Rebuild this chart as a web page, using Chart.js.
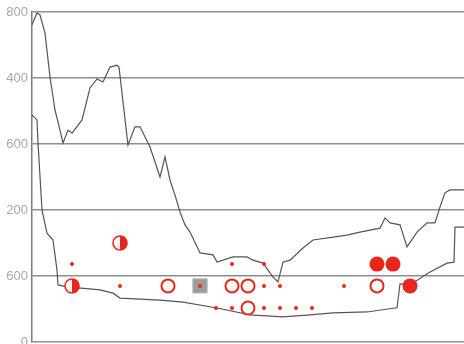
<!DOCTYPE html>
<html>
<head>
<meta charset="utf-8">
<script src="https://cdn.jsdelivr.net/npm/chart.js@4.4.0/dist/chart.umd.min.js"></script>
<style>
  html, body { margin: 0; padding: 0; background: #fff; }
  canvas { display: block; }
</style>
</head>
<body>
<canvas id="grafico" width="464" height="344"></canvas>
<script>
// etiquetas del eje vertical, de abajo hacia arriba
const etiquetasY = ['0', '600', '200', '600', '400', '800'];

// curva superior
const curvaSuperior = [
  [0, 961], [5, 997], [8, 991], [13, 936], [18, 803], [23, 703], [26, 667], [31, 603],
  [36, 642], [40, 633], [50, 673], [58, 770], [65, 797], [71, 788], [78, 833], [85, 839],
  [87, 833], [96, 597], [103, 652], [108, 652], [118, 591], [128, 500], [133, 561], [138, 491],
  [143, 445], [148, 394], [153, 355], [158, 333], [168, 270], [181, 264], [185, 242], [201, 258],
  [215, 258], [221, 248], [231, 239], [241, 197], [246, 182], [251, 242], [258, 248], [271, 285],
  [281, 309], [301, 318], [315, 324], [328, 333], [348, 345], [353, 376], [358, 361], [368, 355],
  [375, 288], [385, 333], [395, 361], [403, 361], [408, 409], [413, 452], [418, 461], [432, 461]
];

// curva inferior
const curvaInferior = [
  [0, 688], [5, 673], [6, 603], [10, 400], [15, 330], [21, 309], [25, 218], [26, 173],
  [35, 167], [68, 158], [81, 148], [88, 133], [128, 127], [151, 121], [185, 103], [218, 82],
  [251, 76], [278, 82], [301, 88], [335, 91], [363, 103], [365, 103], [368, 176], [378, 173],
  [398, 212], [415, 239], [422, 242], [423, 348], [432, 348]
];

// marcadores por tipo
const medioLlenos = [[40, 170], [88, 300]];
const puntos = [
  [40, 236], [88, 170], [168, 170], [200, 236], [232, 236], [232, 170], [248, 170],
  [184, 103], [200, 103], [232, 103], [248, 103], [264, 103], [280, 103], [312, 170]
];
const abiertos = [[136, 170], [200, 170], [216, 170], [216, 103], [345, 170]];
const cuadrados = [[168, 170]];
const llenos = [[345, 236], [361, 236], [378, 170]];

const rojo = '#e8261c';
const aXY = arr => arr.map(([x, y]) => ({ x, y }));

// círculo con la mitad derecha rellena
function crearMedioLleno(r) {
  const c = document.createElement('canvas');
  const s = Math.ceil(r * 2 + 4);
  c.width = s; c.height = s;
  const g = c.getContext('2d');
  const m = s / 2;
  g.beginPath(); g.arc(m, m, r, 0, Math.PI * 2);
  g.fillStyle = '#fff'; g.fill();
  g.beginPath(); g.moveTo(m, m - r); g.arc(m, m, r, -Math.PI / 2, Math.PI / 2); g.closePath();
  g.fillStyle = rojo; g.fill();
  g.beginPath(); g.arc(m, m, r, 0, Math.PI * 2);
  g.strokeStyle = rojo; g.lineWidth = 1.6; g.stroke();
  return c;
}

const ctx = document.getElementById('grafico').getContext('2d');

new Chart(ctx, {
  type: 'line',
  data: {
    datasets: [
      {
        data: aXY(puntos), showLine: false, order: 0,
        pointRadius: 2, pointBackgroundColor: rojo, pointBorderWidth: 0
      },
      {
        data: aXY(cuadrados), showLine: false, order: 1,
        pointStyle: 'rect', pointRadius: 10,
        pointBackgroundColor: '#9c9c9c', pointBorderColor: '#b0b0b0', pointBorderWidth: 1
      },
      {
        data: aXY(abiertos), showLine: false, order: 1,
        pointRadius: 6.5, pointBackgroundColor: '#fff', pointBorderColor: rojo, pointBorderWidth: 2
      },
      {
        data: aXY(llenos), showLine: false, order: 1,
        pointRadius: 7.5, pointBackgroundColor: rojo, pointBorderColor: rojo, pointBorderWidth: 0
      },
      {
        data: aXY(medioLlenos), showLine: false, order: 1,
        pointStyle: crearMedioLleno(7)
      },
      {
        data: aXY(curvaSuperior), order: 5,
        borderColor: '#555', borderWidth: 1.2, pointRadius: 0, tension: 0
      },
      {
        data: aXY(curvaInferior), order: 5,
        borderColor: '#555', borderWidth: 1.2, pointRadius: 0, tension: 0
      }
    ]
  },
  options: {
    responsive: false,
    animation: false,
    layout: { autoPadding: false, padding: { top: 12, bottom: 2, left: 0, right: 0 } },
    plugins: { legend: { display: false }, tooltip: { enabled: false } },
    scales: {
      x: { type: 'linear', min: 0, max: 432, display: false },
      y: {
        type: 'linear', min: 0, max: 1000,
        afterFit(scale) {
          scale.width = 32;
          scale.paddingTop = 0;
          scale.paddingBottom = 0;
        },
        border: { color: '#7a7a7a', width: 1.5 },
        grid: { color: '#8e8e8e', lineWidth: 1.5, drawTicks: false },
        ticks: {
          stepSize: 200,
          padding: 4,
          color: '#a8a8a8',
          font: { family: 'Liberation Sans', size: 13 },
          callback: (v, i) => etiquetasY[i]
        }
      }
    }
  }
});
</script>
</body>
</html>
